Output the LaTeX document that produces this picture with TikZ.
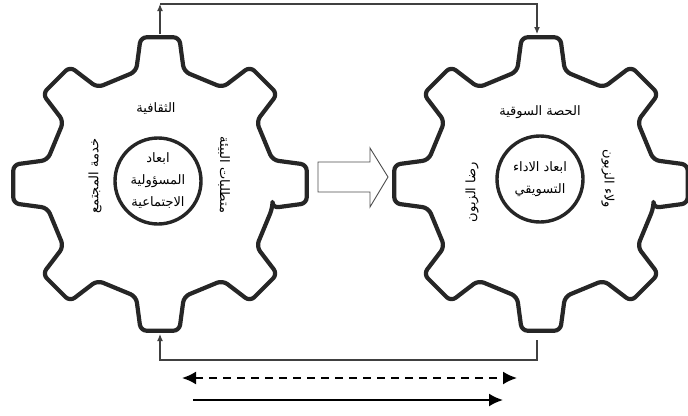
\documentclass[tikz,border=0pt]{standalone}
\usepackage{fontspec}
\newfontfamily\arabicfont[Script=Arabic]{DejaVu Sans}
\TeXXeTstate=1
\usetikzlibrary{arrows.meta,positioning}

\begin{document}
\begin{tikzpicture}[x=1pt,y=-1pt,
   gearline/.style={line width=4.2pt,color=black!85,rounded corners=6pt,line join=round},
   hub/.style={circle,draw=black!85,line width=3.4pt,minimum size=86pt,inner sep=0pt,
      align=center,font=\arabicfont\fontsize{13}{22}\selectfont},
   lbl/.style={font=\arabicfont\fontsize{13}{15}\selectfont,inner sep=1pt},
   link/.style={color=black!75,line width=1.1pt},
   bigline/.style={line width=2pt,>={Latex[length=14pt,width=13pt]}}]
   \useasboundingbox (0,0) rectangle (688,415);

   \coordinate (G1) at (160,184);
   \coordinate (G2) at (541,184);

   % the two gears
   \foreach \g in {G1,G2}{
   \draw[gearline] ([shift={(-12:115pt)}]\g)
      \foreach \a in {0,45,...,315}{
      -- ([shift={({\a-12}:115pt)}]\g) -- ([shift={({\a-7.5}:148pt)}]\g)
      -- ([shift={({\a+7.5}:148pt)}]\g) -- ([shift={({\a+12}:115pt)}]\g)} -- cycle;
   }

   \node[hub] (H1) at (158,181) {\beginR ابعاد\endR\\\beginR المسؤولية\endR\\\beginR الاجتماعية\endR};
   \node[hub] (H2) at (540,179) {\beginR ابعاد الاداء\endR\\\beginR التسويقي\endR};

   \node[lbl] (culture) at (156,109) {\beginR الثقافية\endR};
   \node[lbl,rotate=90] (service) at (95,176) {\beginR خدمة المجتمع\endR};
   \node[lbl,rotate=-90] (environ) at (224,175) {\beginR متطلبات البيئة\endR};

   \node[lbl] (share) at (540,112) {\beginR الحصة السوقية\endR};
   \node[lbl,rotate=90] (satisf) at (472,192) {\beginR رضا الزبون\endR};
   \node[lbl,rotate=-90] (loyal) at (608,179) {\beginR ولاء الزبون\endR};

   % hollow arrow between the gears
   \draw[color=black!70,line width=0.9pt] (318,162) -- (370,162) -- (370,148) -- (388,177)
      -- (370,207) -- (370,192) -- (318,192) -- cycle;

   % feedback lines
   \coordinate (T1) at (160,34);
   \coordinate (U1) at (160,4);
   \coordinate (U2) at (537,4);
   \coordinate (T2) at (537,34);
   \coordinate (B1) at (160,334);
   \coordinate (D1) at (160,360);
   \coordinate (D2) at (537,360);
   \coordinate (B2) at (537,340);
   \draw[link,-{Latex[length=7pt,width=6pt]}] (T1) -- (U1);
   \draw[link,-{Latex[length=7pt,width=6pt]}] (U1) -- (U2) -- (T2);
   \draw[link,-{Latex[length=7pt,width=6pt]}] (B2) -- (D2) -- (D1) -- (B1);

   \coordinate (L1) at (182,378);
   \coordinate (R1) at (517,378);
   \coordinate (L2) at (193,400);
   \coordinate (R2) at (503,400);
   \draw[bigline,<->,dash pattern=on 8pt off 6pt] (L1) -- (R1);
   \draw[bigline,->] (L2) -- (R2);
 \end{tikzpicture}
\end{document}
